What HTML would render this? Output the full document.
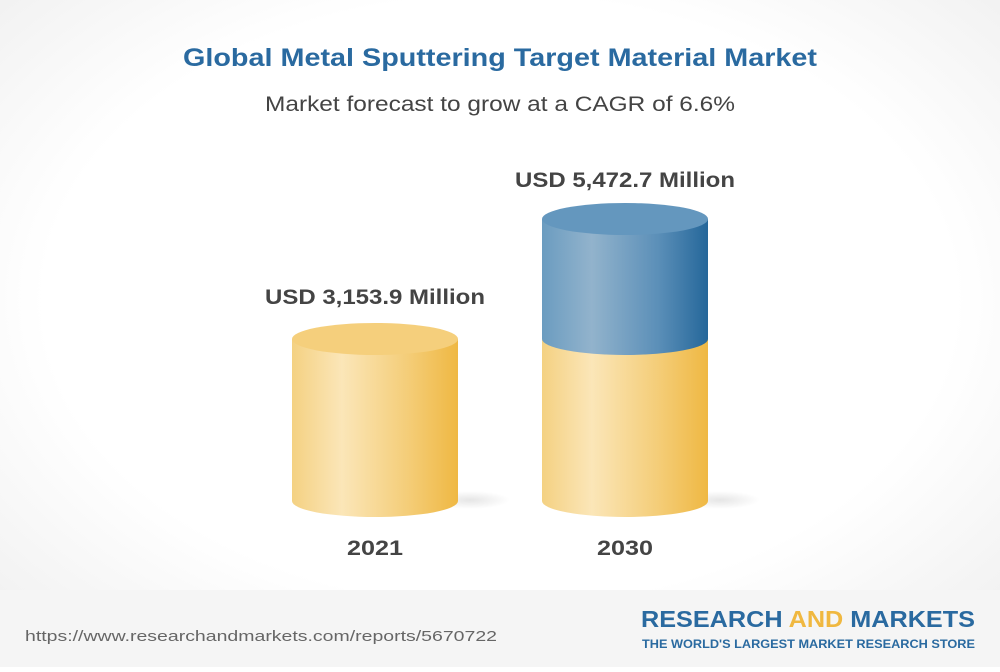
<!DOCTYPE html>
<html><head><style>
body{margin:0;width:1000px;height:667px;overflow:hidden;font-family:"Liberation Sans",sans-serif;background:#fff}
</style></head><body>
<svg width="1000" height="667" xmlns="http://www.w3.org/2000/svg">
<defs>
<radialGradient id="bg" cx="50%" cy="45%" r="70%"><stop offset="0.65" stop-color="#ffffff"/><stop offset="1" stop-color="#f0f0f0"/></radialGradient>
<linearGradient id="y" x1="0" x2="1"><stop offset="0" stop-color="#f4d182"/><stop offset="0.3" stop-color="#fbe6b8"/><stop offset="0.7" stop-color="#f4cd78"/><stop offset="1" stop-color="#efb843"/></linearGradient>
<linearGradient id="b" x1="0" x2="1"><stop offset="0" stop-color="#6b9cc0"/><stop offset="0.3" stop-color="#92b3cc"/><stop offset="0.7" stop-color="#5b8fb8"/><stop offset="1" stop-color="#25679a"/></linearGradient>
<radialGradient id="sh"><stop offset="0" stop-color="#000" stop-opacity="0.1"/><stop offset="1" stop-color="#000" stop-opacity="0"/></radialGradient>
</defs>
<rect width="1000" height="667" fill="url(#bg)"/>
<rect y="590" width="1000" height="77" fill="#f5f5f5"/>
<text x="500" y="66" text-anchor="middle" font-size="25" font-weight="bold" fill="#2a6aa0" textLength="634" lengthAdjust="spacingAndGlyphs">Global Metal Sputtering Target Material Market</text>
<text x="500" y="111" text-anchor="middle" font-size="21" fill="#444" textLength="470" lengthAdjust="spacingAndGlyphs">Market forecast to grow at a CAGR of 6.6%</text>
<ellipse cx="470" cy="500" rx="40" ry="9" fill="url(#sh)"/>
<ellipse cx="720" cy="500" rx="40" ry="9" fill="url(#sh)"/>
<path d="M292 339 V501 A83 16 0 0 0 458 501 V339 Z" fill="url(#y)"/>
<ellipse cx="375" cy="339" rx="83" ry="16" fill="#f5cf7c"/>
<path d="M542 339 V501 A83 16 0 0 0 708 501 V339 Z" fill="url(#y)"/>
<path d="M542 219 V339 A83 16 0 0 0 708 339 V219 Z" fill="url(#b)"/>
<ellipse cx="625" cy="219" rx="83" ry="16" fill="#6497be"/>
<text x="375" y="304" text-anchor="middle" font-size="21" font-weight="bold" fill="#444" textLength="220" lengthAdjust="spacingAndGlyphs">USD 3,153.9 Million</text>
<text x="625" y="187" text-anchor="middle" font-size="21" font-weight="bold" fill="#444" textLength="220" lengthAdjust="spacingAndGlyphs">USD 5,472.7 Million</text>
<text x="375" y="555" text-anchor="middle" font-size="21" font-weight="bold" fill="#444" textLength="56" lengthAdjust="spacingAndGlyphs">2021</text>
<text x="625" y="555" text-anchor="middle" font-size="21" font-weight="bold" fill="#444" textLength="56" lengthAdjust="spacingAndGlyphs">2030</text>
<text x="25" y="641" font-size="15" fill="#666" textLength="472" lengthAdjust="spacingAndGlyphs">https://www.researchandmarkets.com/reports/5670722</text>
<text x="641" y="627" font-size="23" font-weight="bold" fill="#2a6aa0" textLength="334" lengthAdjust="spacingAndGlyphs">RESEARCH <tspan fill="#f0b840">AND</tspan> MARKETS</text>
<text x="642" y="648" font-size="11.5" font-weight="bold" fill="#2a6aa0" textLength="333" lengthAdjust="spacingAndGlyphs">THE WORLD'S LARGEST MARKET RESEARCH STORE</text>
</svg>
</body></html>
